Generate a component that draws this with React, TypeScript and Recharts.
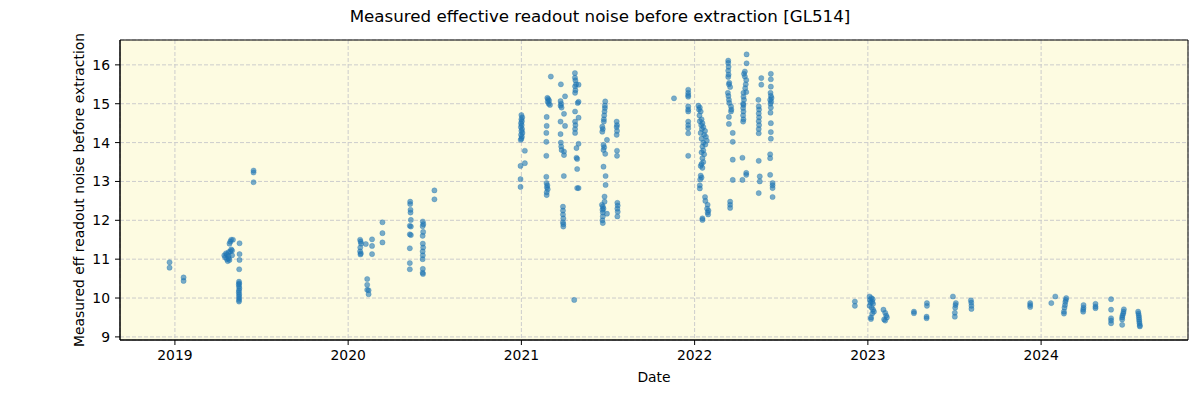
import {
  ScatterChart,
  Scatter,
  XAxis,
  YAxis,
  CartesianGrid,
  ReferenceArea,
} from "recharts";

// observation epochs as decimal years, value = measured eff readout noise
const season2019: [number, number][] = [
  [2018.969, 10.92], [2018.969, 10.78],
  [2019.05, 10.53], [2019.05, 10.44],
  [2019.285, 11.1], [2019.29, 11.05], [2019.295, 11.15], [2019.3, 11.0],
  [2019.3, 11.12], [2019.305, 10.95], [2019.31, 11.08], [2019.31, 11.18],
  [2019.315, 11.4], [2019.32, 11.45], [2019.325, 11.5], [2019.32, 11.2],
  [2019.33, 11.22], [2019.33, 11.1], [2019.335, 11.5], [2019.31, 11.02],
  [2019.315, 10.98], [2019.325, 11.25],
  [2019.373, 11.41], [2019.373, 11.13], [2019.373, 10.98], [2019.371, 10.74],
  [2019.37, 10.42], [2019.371, 10.38], [2019.369, 10.35], [2019.37, 10.3],
  [2019.372, 10.25], [2019.37, 10.2], [2019.369, 10.15], [2019.371, 10.1],
  [2019.37, 10.05], [2019.371, 10.0], [2019.37, 9.95], [2019.37, 9.91],
  [2019.454, 13.28], [2019.454, 13.23], [2019.454, 12.98],
];

const season2020: [number, number][] = [
  [2020.069, 11.5], [2020.072, 11.45], [2020.075, 11.4], [2020.07, 11.3],
  [2020.069, 11.2], [2020.073, 11.15], [2020.071, 11.12],
  [2020.102, 11.39],
  [2020.11, 10.49], [2020.11, 10.34], [2020.11, 10.21], [2020.118, 10.2], [2020.118, 10.1],
  [2020.138, 11.51], [2020.138, 11.34], [2020.138, 11.13],
  [2020.198, 11.95], [2020.198, 11.67], [2020.198, 11.43],
  [2020.358, 12.48], [2020.358, 12.42], [2020.36, 12.27], [2020.36, 12.2],
  [2020.362, 12.01], [2020.356, 11.86], [2020.362, 11.84], [2020.356, 11.64],
  [2020.362, 11.62], [2020.356, 11.28], [2020.356, 10.9], [2020.356, 10.74],
  [2020.431, 11.97], [2020.434, 11.9], [2020.43, 11.85], [2020.433, 11.7],
  [2020.43, 11.6], [2020.431, 11.4], [2020.433, 11.3], [2020.43, 11.2],
  [2020.431, 11.1], [2020.43, 11.0], [2020.431, 10.75], [2020.43, 10.65],
  [2020.432, 10.62],
  [2020.498, 12.77], [2020.498, 12.54],
];

const season2021: [number, number][] = [
  [2021.0, 14.71], [2021.005, 14.65], [2021.0, 14.6], [2021.003, 14.55],
  [2020.998, 14.5], [2021.002, 14.45], [2020.997, 14.4], [2021.004, 14.35],
  [2021.0, 14.3], [2021.006, 14.25], [2020.998, 14.2], [2021.003, 14.15],
  [2021.0, 14.1], [2020.996, 14.07],
  [2021.02, 13.79], [2021.02, 13.47], [2020.995, 13.4], [2020.995, 13.06], [2020.995, 12.86],
  [2021.17, 15.7], [2021.15, 15.15], [2021.155, 15.12], [2021.16, 15.08],
  [2021.152, 15.05], [2021.158, 15.0], [2021.165, 14.97], [2021.146, 14.66],
  [2021.146, 14.43], [2021.144, 14.25], [2021.144, 14.02], [2021.144, 13.66],
  [2021.144, 13.12], [2021.145, 12.96], [2021.15, 12.9], [2021.147, 12.85],
  [2021.152, 12.8], [2021.146, 12.72], [2021.146, 12.65],
  [2021.228, 15.5], [2021.252, 15.19], [2021.226, 15.07], [2021.23, 15.0],
  [2021.226, 14.95], [2021.232, 14.9], [2021.246, 14.74], [2021.226, 14.54],
  [2021.252, 14.43], [2021.226, 14.22], [2021.228, 14.0], [2021.23, 13.9],
  [2021.232, 13.81], [2021.246, 13.77], [2021.246, 13.68], [2021.245, 13.14],
  [2021.24, 12.35], [2021.24, 12.25], [2021.24, 12.15], [2021.242, 12.05],
  [2021.24, 11.95], [2021.242, 11.9], [2021.242, 11.84],
  [2021.309, 15.79], [2021.309, 15.67], [2021.312, 15.6], [2021.316, 15.5],
  [2021.31, 15.45], [2021.312, 15.35], [2021.31, 15.28], [2021.33, 15.49],
  [2021.325, 15.02], [2021.33, 15.05], [2021.31, 14.8], [2021.33, 14.64],
  [2021.31, 14.54], [2021.312, 14.45], [2021.31, 14.35], [2021.31, 14.25],
  [2021.33, 13.97], [2021.318, 13.86], [2021.318, 13.61], [2021.322, 13.58],
  [2021.322, 13.32], [2021.322, 12.83], [2021.33, 12.83],
  [2021.305, 9.95],
  [2021.484, 15.06], [2021.482, 14.95], [2021.482, 14.89], [2021.48, 14.8],
  [2021.478, 14.7], [2021.476, 14.6], [2021.476, 14.54], [2021.467, 14.41],
  [2021.47, 14.35], [2021.467, 14.28], [2021.494, 14.07], [2021.474, 13.94],
  [2021.478, 13.88], [2021.474, 13.81], [2021.484, 13.71], [2021.474, 13.38],
  [2021.486, 13.14], [2021.486, 12.91], [2021.48, 12.61], [2021.48, 12.48],
  [2021.465, 12.4], [2021.47, 12.35], [2021.474, 12.3], [2021.468, 12.27],
  [2021.47, 12.2], [2021.47, 12.1], [2021.468, 12.0], [2021.47, 11.93],
  [2021.494, 12.17],
  [2021.55, 14.54], [2021.552, 14.45], [2021.55, 14.4], [2021.552, 14.3],
  [2021.55, 14.2], [2021.552, 13.79], [2021.552, 13.66], [2021.554, 12.45],
  [2021.556, 12.38], [2021.554, 12.3], [2021.556, 12.22], [2021.554, 12.1],
];

const season2022: [number, number][] = [
  [2021.881, 15.14],
  [2021.963, 15.36], [2021.963, 15.28], [2021.963, 15.22], [2021.963, 15.18],
  [2021.963, 14.93], [2021.963, 14.85], [2021.963, 14.8], [2021.963, 14.54],
  [2021.963, 14.45], [2021.963, 14.37], [2021.963, 14.24], [2021.963, 13.66],
  [2022.022, 14.95], [2022.03, 14.9], [2022.025, 14.85], [2022.035, 14.8],
  [2022.028, 14.7], [2022.04, 14.6], [2022.03, 14.55], [2022.045, 14.5],
  [2022.038, 14.45], [2022.05, 14.4], [2022.042, 14.35], [2022.06, 14.3],
  [2022.035, 14.25], [2022.055, 14.2], [2022.065, 14.15], [2022.04, 14.1],
  [2022.07, 14.05], [2022.05, 14.0], [2022.062, 13.95], [2022.045, 13.9],
  [2022.05, 13.8], [2022.04, 13.75], [2022.055, 13.7], [2022.045, 13.6],
  [2022.05, 13.5], [2022.04, 13.45], [2022.035, 13.4], [2022.045, 13.35],
  [2022.035, 13.15], [2022.04, 13.1], [2022.032, 13.05], [2022.03, 12.9],
  [2022.03, 12.82], [2022.06, 12.6], [2022.062, 12.5], [2022.075, 12.4],
  [2022.072, 12.3], [2022.08, 12.25], [2022.075, 12.2], [2022.078, 12.15],
  [2022.045, 12.05], [2022.045, 12.01],
  [2022.194, 16.11], [2022.194, 16.05], [2022.196, 15.95], [2022.194, 15.85],
  [2022.196, 15.75], [2022.194, 15.69], [2022.2, 15.54], [2022.198, 15.5],
  [2022.205, 15.43], [2022.192, 15.28], [2022.195, 15.2], [2022.198, 15.1],
  [2022.2, 15.02], [2022.21, 14.93], [2022.212, 14.85], [2022.21, 14.8],
  [2022.198, 14.66], [2022.198, 14.48], [2022.22, 14.25], [2022.22, 14.02],
  [2022.22, 13.56], [2022.22, 13.04], [2022.205, 12.48], [2022.205, 12.4],
  [2022.205, 12.32],
  [2022.3, 16.27], [2022.3, 16.04], [2022.29, 15.83], [2022.285, 15.77],
  [2022.29, 15.7], [2022.298, 15.61], [2022.295, 15.5], [2022.292, 15.4],
  [2022.298, 15.3], [2022.282, 15.28], [2022.282, 15.18], [2022.285, 15.1],
  [2022.28, 15.0], [2022.282, 14.97], [2022.28, 14.89], [2022.282, 14.8],
  [2022.28, 14.7], [2022.282, 14.6], [2022.28, 14.54], [2022.276, 13.61],
  [2022.298, 13.22], [2022.298, 13.17], [2022.276, 13.04],
  [2022.385, 15.66], [2022.385, 15.49], [2022.368, 15.1], [2022.37, 14.93],
  [2022.372, 14.85], [2022.37, 14.75], [2022.372, 14.65], [2022.37, 14.55],
  [2022.372, 14.45], [2022.37, 14.35], [2022.37, 14.24], [2022.37, 13.53],
  [2022.376, 13.13], [2022.376, 13.0], [2022.37, 12.7],
  [2022.44, 15.77], [2022.44, 15.63], [2022.44, 15.44], [2022.438, 15.28],
  [2022.44, 15.2], [2022.444, 15.15], [2022.436, 15.1], [2022.442, 15.05],
  [2022.438, 15.0], [2022.44, 14.9], [2022.438, 14.77], [2022.44, 14.5],
  [2022.44, 14.27], [2022.44, 14.1], [2022.436, 13.7], [2022.436, 13.6],
  [2022.436, 13.17], [2022.45, 12.96], [2022.45, 12.9], [2022.45, 12.83],
  [2022.45, 12.6],
];

const season2023: [number, number][] = [
  [2022.925, 9.91], [2022.925, 9.8],
  [2023.01, 10.04], [2023.02, 10.0], [2023.028, 9.97], [2023.012, 9.95],
  [2023.025, 9.9], [2023.015, 9.88], [2023.03, 9.85], [2023.01, 9.8],
  [2023.022, 9.75], [2023.03, 9.7], [2023.035, 9.65], [2023.025, 9.6],
  [2023.018, 9.5], [2023.018, 9.46],
  [2023.09, 9.7], [2023.1, 9.62], [2023.106, 9.55], [2023.11, 9.5],
  [2023.094, 9.45], [2023.1, 9.42],
  [2023.266, 9.65], [2023.266, 9.61],
  [2023.341, 9.87], [2023.341, 9.8], [2023.339, 9.52], [2023.339, 9.48],
  [2023.491, 10.04], [2023.508, 9.87], [2023.506, 9.82], [2023.504, 9.75],
  [2023.502, 9.62], [2023.502, 9.52],
  [2023.595, 9.94], [2023.597, 9.88], [2023.598, 9.8], [2023.598, 9.72],
];

const season2024: [number, number][] = [
  [2023.937, 9.87], [2023.937, 9.82], [2023.937, 9.77],
  [2024.059, 9.87], [2024.082, 10.04],
  [2024.145, 10.0], [2024.143, 9.95], [2024.14, 9.9], [2024.138, 9.82],
  [2024.135, 9.75], [2024.132, 9.65], [2024.132, 9.6],
  [2024.245, 9.82], [2024.245, 9.75], [2024.243, 9.7], [2024.243, 9.65],
  [2024.314, 9.85], [2024.314, 9.78], [2024.314, 9.74],
  [2024.404, 9.97], [2024.404, 9.7], [2024.404, 9.48], [2024.404, 9.42], [2024.404, 9.35],
  [2024.478, 9.71], [2024.476, 9.65], [2024.474, 9.6], [2024.47, 9.55],
  [2024.468, 9.5], [2024.468, 9.45], [2024.468, 9.31],
  [2024.56, 9.65], [2024.562, 9.6], [2024.564, 9.55], [2024.565, 9.5],
  [2024.566, 9.45], [2024.567, 9.4], [2024.568, 9.35], [2024.57, 9.3],
  [2024.57, 9.27],
];

const xTicks = [2019, 2020, 2021, 2022, 2023, 2024];
const yTicks = [9, 10, 11, 12, 13, 14, 15, 16];

const X_MIN = 2018.683;
const X_MAX = 2024.848;
const Y_MIN = 8.92;
const Y_MAX = 16.64;

const data = [
  ...season2019,
  ...season2020,
  ...season2021,
  ...season2022,
  ...season2023,
  ...season2024,
].map(([date, noise]) => ({ date, noise }));

const Dot = (props: any) => (
  <circle
    cx={props.cx}
    cy={props.cy}
    r={2.6}
    fill="#1f77b4"
    fillOpacity={0.6}
    stroke="#1f77b4"
    strokeOpacity={0.6}
    strokeWidth={0.5}
  />
);

const tickStyle = { fill: "#000", fontSize: 13.9 };

export default function App() {
  return (
    <div
      style={{
        position: "relative",
        width: 1200,
        height: 400,
        fontFamily: "'DejaVu Sans', sans-serif",
        background: "#fff",
      }}
    >
      <style>{`body { margin: 0; }`}</style>
      <div
        style={{
          position: "absolute",
          top: 6,
          left: 0,
          width: 1200,
          textAlign: "center",
          fontSize: 16.7,
          color: "#000",
        }}
      >
        Measured effective readout noise before extraction [GL514]
      </div>
      <ScatterChart
        width={1200}
        height={400}
        margin={{ top: 40, right: 12, bottom: 0, left: 0 }}
      >
        <CartesianGrid
          stroke="#cccccc"
          strokeDasharray="4 2"
          fill="#fdfbe1"
          fillOpacity={1}
        />
        <XAxis
          type="number"
          dataKey="date"
          domain={[X_MIN, X_MAX]}
          ticks={xTicks}
          allowDataOverflow
          height={60}
          tickSize={5}
          tickMargin={5}
          tick={tickStyle}
          stroke="#000"
          label={{
            value: "Date",
            position: "insideBottom",
            offset: 18,
            fill: "#000",
            fontSize: 13.9,
          }}
        />
        <YAxis
          type="number"
          dataKey="noise"
          domain={[Y_MIN, Y_MAX]}
          ticks={yTicks}
          allowDataOverflow
          width={120}
          tickSize={5}
          tickMargin={5}
          tick={tickStyle}
          stroke="#000"
          label={{
            value: "Measured eff readout noise before extraction",
            angle: -90,
            position: "insideLeft",
            offset: 79,
            textAnchor: "middle",
            fill: "#000",
            fontSize: 13.9,
          }}
        />
        <Scatter data={data} shape={Dot} isAnimationActive={false} />
        <ReferenceArea
          x1={X_MIN}
          x2={X_MAX}
          y1={Y_MIN}
          y2={Y_MAX}
          fill="none"
          stroke="#000"
          strokeWidth={1}
          ifOverflow="visible"
        />
      </ScatterChart>
    </div>
  );
}
